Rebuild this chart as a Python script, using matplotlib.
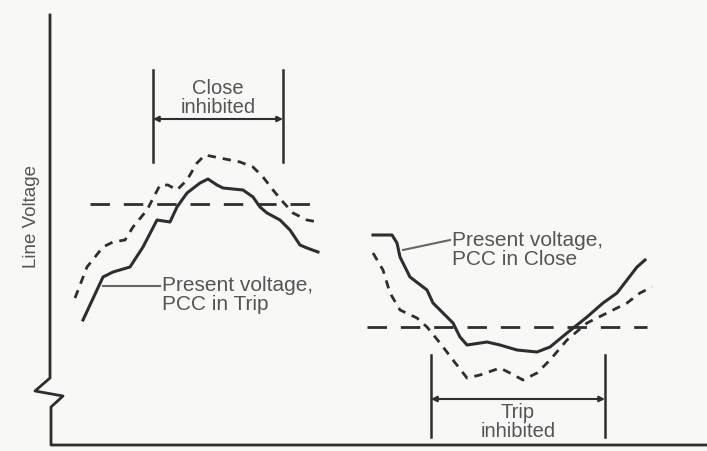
import matplotlib.pyplot as plt
import numpy as np

# Traced curves (x: time position, y: screen-down voltage position)
trip_solid_x = [83, 103, 113, 130, 143, 157, 170, 177, 187, 200, 208, 217, 223, 243, 253, 260, 267, 280, 290, 300, 307, 318]
trip_solid_y = [320, 277, 272, 267, 247, 220, 222, 207, 193, 183, 179, 185, 188, 190, 197, 207, 213, 220, 230, 245, 248, 252]
trip_dash_x = [75, 87, 103, 113, 125, 133, 147, 160, 168, 177, 187, 197, 205, 220, 240, 253, 263, 273, 283, 293, 307, 318]
trip_dash_y = [298, 267, 247, 242, 240, 227, 210, 185, 185, 190, 180, 163, 155, 158, 162, 167, 177, 190, 202, 213, 220, 222]

close_solid_x = [373, 392, 397, 400, 410, 427, 433, 443, 453, 460, 467, 487, 500, 517, 537, 550, 567, 587, 603, 617, 627, 637, 645]
close_solid_y = [235, 235, 243, 257, 277, 290, 303, 313, 323, 337, 345, 342, 345, 350, 352, 347, 333, 317, 303, 293, 280, 267, 260]
close_dash_x = [373, 383, 390, 400, 417, 427, 440, 453, 467, 480, 500, 510, 523, 537, 550, 567, 587, 607, 627, 640, 652]
close_dash_y = [253, 270, 293, 310, 318, 327, 343, 360, 378, 375, 368, 373, 380, 373, 360, 340, 323, 313, 303, 293, 287]

# Thresholds and inhibit windows
thr_left = (90, 320, 204)
thr_right = (367, 647, 327)
close_win = (153, 283)
trip_win = (431, 605)

ink = "#2e2e2e"
txt = "#555555"
plt.rcParams["font.family"] = ["Liberation Sans", "DejaVu Sans"]

fig = plt.figure(figsize=(7.07, 4.51), dpi=100, facecolor="#f8f8f6")
ax = fig.add_axes([0, 0, 1, 1])
ax.set_xlim(0, 707)
ax.set_ylim(451, 0)
ax.axis("off")

# Axes with break
ax.plot([50, 50, 35, 63, 51, 51, 707], [15, 378, 391, 396, 407, 445, 445], color=ink, lw=2)
ax.text(32, 217, "Line Voltage", rotation=90, ha="center", va="center", fontsize=13.5, color=txt)

# Thresholds
ax.plot(thr_left[:2], [thr_left[2]] * 2, color=ink, lw=2, dashes=(7, 5))
ax.plot(thr_right[:2], [thr_right[2]] * 2, color=ink, lw=2, dashes=(7, 5))

# Curves
ax.plot(trip_solid_x, trip_solid_y, color=ink, lw=2.2)
ax.plot(trip_dash_x, trip_dash_y, color=ink, lw=2, dashes=(3, 2.5))
ax.plot(close_solid_x, close_solid_y, color=ink, lw=2.2)
ax.plot(close_dash_x, close_dash_y, color=ink, lw=2, dashes=(3, 2.5))

# Inhibit windows
for x in close_win:
    ax.plot([x, x], [70, 162], color=ink, lw=1.8)
ax.annotate("", xy=(close_win[0], 119), xytext=(close_win[1], 119),
            arrowprops=dict(arrowstyle="<|-|>", color=ink, lw=1.5, mutation_scale=8,
                            shrinkA=0, shrinkB=0))
ax.text(sum(close_win) / 2, 98, "Close\ninhibited", ha="center", va="center",
        fontsize=14.5, color=txt, linespacing=1.0)

for x in trip_win:
    ax.plot([x, x], [355, 437], color=ink, lw=1.8)
ax.annotate("", xy=(trip_win[0], 399), xytext=(trip_win[1], 399),
            arrowprops=dict(arrowstyle="<|-|>", color=ink, lw=1.5, mutation_scale=8,
                            shrinkA=0, shrinkB=0))
ax.text(sum(trip_win) / 2, 422, "Trip\ninhibited", ha="center", va="center",
        fontsize=14.5, color=txt, linespacing=1.0)

# Labels with leaders
ax.plot([103, 160], [286, 286], color="#666666", lw=1.5)
ax.text(162, 295, "Present voltage,\nPCC in Trip", ha="left", va="center",
        fontsize=15, color=txt, linespacing=0.95)
ax.plot([403, 450], [250, 240], color="#666666", lw=1.5)
ax.text(452, 250, "Present voltage,\nPCC in Close", ha="left", va="center",
        fontsize=15, color=txt, linespacing=0.95)

plt.savefig("out.png", dpi=100, facecolor=fig.get_facecolor())
